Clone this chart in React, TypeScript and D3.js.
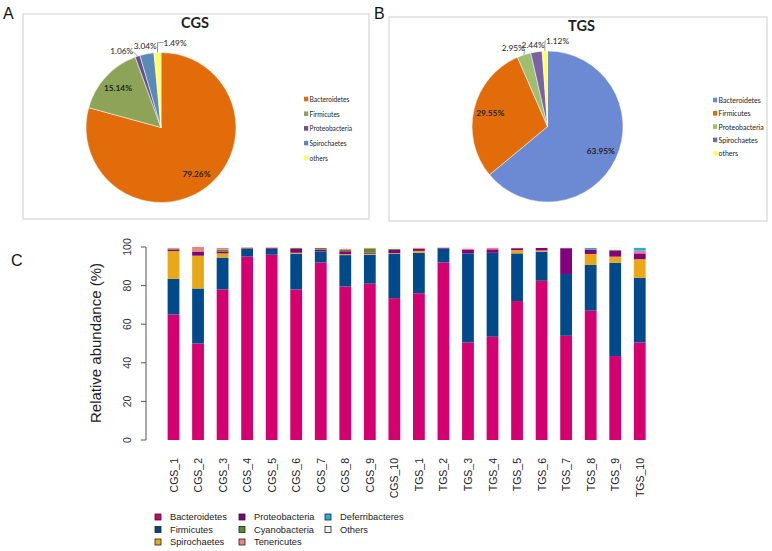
import React from "react";
import * as d3 from "d3";

// ---------- Pie data ----------
const pieCategories = ["Bacteroidetes", "Firmicutes", "Proteobacteria", "Spirochaetes", "others"];
const cgsPieValues = [79.26, 15.14, 1.06, 3.04, 1.49];
const tgsPieValues = [63.95, 29.55, 2.95, 2.44, 1.12];
const cgsPieColors = ["#E36C0A", "#8DA458", "#674E90", "#5A8BB7", "#FFFF66"];
const tgsPieColors = ["#6B8AD3", "#E36C0A", "#9EBF72", "#7A62A4", "#FFFF66"];

// ---------- Bar data ----------
const samples = [
  "CGS_1", "CGS_2", "CGS_3", "CGS_4", "CGS_5", "CGS_6", "CGS_7", "CGS_8", "CGS_9", "CGS_10",
  "TGS_1", "TGS_2", "TGS_3", "TGS_4", "TGS_5", "TGS_6", "TGS_7", "TGS_8", "TGS_9", "TGS_10",
];
const phyla = ["Bacteroidetes", "Firmicutes", "Spirochaetes", "Proteobacteria", "Cyanobacteria", "Tenericutes", "Deferribacteres", "Others"];
const bacteroidetes = [65, 50, 78, 95, 96, 78, 92, 79.5, 81, 73.5, 76, 92, 50.5, 53.5, 72, 82.5, 54, 67, 43.5, 50.5];
const firmicutes = [18.5, 28.5, 16.5, 4, 3, 18.5, 5.7, 16.3, 15, 23, 21, 7.2, 46.2, 43.5, 24.7, 15, 32, 23.7, 48.4, 33.5];
const spirochaetes = [14.4, 17, 2.2, 0.2, 0.1, 0.5, 0, 0.5, 0.5, 0.3, 1, 0, 0, 0, 1.7, 0.7, 0, 5.7, 3.1, 9.7];
const proteobacteria = [0.8, 2, 1, 0.3, 0.4, 2, 1, 1.5, 0.5, 1.7, 1, 0.5, 2, 1.8, 1, 1.3, 13.4, 2.2, 3.1, 3];
const cyanobacteria = [0.5, 0.3, 1, 0.3, 0.3, 0.5, 0.8, 0.7, 2, 0.5, 0, 0, 0, 0, 0, 0, 0, 0.3, 0.5, 0];
const tenericutes = [0.3, 2.2, 0.8, 0, 0, 0, 0, 0.5, 0.5, 0, 0.5, 0, 0.5, 0.7, 0, 0, 0, 0, 0, 1.4];
const deferribacteres = [0, 0, 0, 0, 0, 0, 0, 0, 0, 0, 0, 0, 0, 0, 0, 0, 0, 0.6, 0, 1.5];
const others = [0.5, 0, 0.5, 0.2, 0.2, 0.5, 0.5, 1, 0.5, 1, 0.5, 0.3, 0.8, 0.5, 0.6, 0.5, 0.6, 0.5, 1.4, 0.4];
const phylaColors = ["#D4006F", "#004A8C", "#E8A817", "#83007E", "#5B8A2E", "#F08080", "#1CB0E8", "#F8F6EC"];
const yTicks = [0, 20, 40, 60, 80, 100];

const seriesValues = [bacteroidetes, firmicutes, spirochaetes, proteobacteria, cyanobacteria, tenericutes, deferribacteres, others];

type PieProps = {
  title: string;
  values: number[];
  colors: string[];
  cx: number;
  cy: number;
  r: number;
  box: [number, number, number, number];
  legendX: number;
  legendY: number;
  legendStep: number;
  legendFont: number;
  nudges: [number, number][];
};

function Pie(p: PieProps) {
  const pie = d3.pie<number>().sort(null).value((d) => d);
  const arcs = pie(p.values);
  const arc = d3.arc<d3.PieArcDatum<number>>().innerRadius(0).outerRadius(p.r);
  const font = "Lato, 'Open Sans', sans-serif";
  return (
    <g>
      <rect x={p.box[0]} y={p.box[1]} width={p.box[2]} height={p.box[3]} fill="#fff" stroke="#D6D6D6" strokeWidth={1.2} />
      <text x={p.cx + 34} y={p.box[1] + 14} textAnchor="middle" fontFamily={font} fontWeight="bold" fontSize={14.5} fill="#222">
        {p.title}
      </text>
      <g transform={`translate(${p.cx},${p.cy})`}>
        {arcs.map((a, i) => (
          <path key={i} d={arc(a) || ""} fill={p.colors[i]} stroke="#fff" strokeWidth={0.5} />
        ))}
        {arcs.map((a, i) => {
          const mid = (a.startAngle + a.endAngle) / 2;
          const big = a.value > 10;
          const rr = big ? p.r * 0.78 : p.r * 1.12;
          const x = Math.sin(mid) * rr + p.nudges[i][0];
          const y = -Math.cos(mid) * rr + p.nudges[i][1];
          const label = a.value.toFixed(2) + "%";
          const needLeader = Math.abs(p.nudges[i][0]) > 6;
          const ex = Math.sin(mid) * p.r;
          const ey = -Math.cos(mid) * p.r;
          const right = p.nudges[i][0] > 0;
          const lx = right ? x - 11.5 : x + 11.5;
          const pts = right ? `${ex},${ey} ${ex},${y} ${lx},${y}` : `${ex},${ey} ${lx},${y + 1}`;
          return (
            <g key={"l" + i}>
              {!big && needLeader && <polyline points={pts} fill="none" stroke="#555" strokeWidth={0.6} />}
              <text x={x} y={y} textAnchor="middle" dominantBaseline="central" fontFamily={font} fontSize={8.3} fontWeight={big ? "bold" : "normal"} fill="#222">
                {label}
              </text>
            </g>
          );
        })}
      </g>
      {pieCategories.map((c, i) => (
        <g key={"lg" + i} transform={`translate(${p.legendX},${p.legendY + i * p.legendStep})`}>
          <rect x={-4} y={-2.3} width={4.2} height={4.6} fill={p.colors[i]} />
          <text x={1.5} y={0} dominantBaseline="central" fontFamily={font} fontSize={p.legendFont} fill="#222">
            {c}
          </text>
        </g>
      ))}
    </g>
  );
}

function BarChart() {
  const y = d3.scaleLinear().domain([0, 100]).range([440, 247]);
  const x = d3.scaleBand<string>().domain(samples).range([161.23, 652.03]).paddingInner(0.52).paddingOuter(0.26);
  const table = samples.map((s, i) => {
    const row: Record<string, number | string> = { sample: s };
    phyla.forEach((ph, k) => (row[ph] = seriesValues[k][i]));
    return row;
  });
  const stack = d3.stack<Record<string, number | string>>().keys(phyla).value((d, k) => d[k] as number);
  const layers = stack(table);
  const font = "'Liberation Sans', Arial, sans-serif";
  const axisX = 146;
  const legendCols = [
    [0, 1, 2],
    [3, 4, 5],
    [6, 7],
  ];
  const colX = [158, 242, 328];
  const rowY = [517, 529.5, 542];
  return (
    <g>
      {layers.map((layer, k) => (
        <g key={k} fill={phylaColors[k]}>
          {layer.map((d, i) => {
            const h = y(d[0]) - y(d[1]);
            if (h <= 0) return null;
            return <rect key={i} x={x(samples[i])} y={y(d[1])} width={x.bandwidth()} height={h} />;
          })}
        </g>
      ))}
      <line x1={axisX} x2={axisX} y1={y(0)} y2={y(100)} stroke="#555" strokeWidth={1} />
      {yTicks.map((t) => (
        <g key={t}>
          <line x1={axisX - 5} x2={axisX} y1={y(t)} y2={y(t)} stroke="#555" strokeWidth={1} />
          <text
            transform={`translate(${127},${y(t)}) rotate(-90)`}
            textAnchor="middle"
            dominantBaseline="central"
            fontFamily={font}
            fontSize={10.5}
            fill="#333"
          >
            {t}
          </text>
        </g>
      ))}
      <text transform={`translate(95,${343}) rotate(-90)`} textAnchor="middle" dominantBaseline="central" fontFamily={font} fontSize={15} fill="#222">
        Relative abundance (%)
      </text>
      {samples.map((s) => (
        <text
          key={s}
          transform={`translate(${(x(s) || 0) + x.bandwidth() / 2},${458}) rotate(-90)`}
          textAnchor="end"
          dominantBaseline="central"
          fontFamily={font}
          fontSize={10.5}
          fill="#222"
        >
          {s}
        </text>
      ))}
      {legendCols.map((col, ci) =>
        col.map((k, ri) => (
          <g key={k} transform={`translate(${colX[ci]},${rowY[ri]})`}>
            <rect x={-3} y={-3} width={6} height={6} fill={phylaColors[k]} stroke="#222" strokeWidth={0.8} />
            <text x={12} y={0} dominantBaseline="central" fontFamily={font} fontSize={9.3} fill="#222">
              {phyla[k]}
            </text>
          </g>
        ))
      )}
    </g>
  );
}

export default function App() {
  const letterFont = "'Liberation Sans', Arial, sans-serif";
  return (
    <svg width={772} height={551} style={{ position: "absolute", left: 0, top: 0, background: "#fff" }}>
      <rect x={0} y={0} width={772} height={551} fill="#fff" />
      <Pie
        title="CGS"
        values={cgsPieValues}
        colors={cgsPieColors}
        cx={161}
        cy={127.5}
        r={75}
        box={[23, 14, 346, 205]}
        legendX={308}
        legendY={99}
        legendStep={14.7}
        legendFont={6.6}
        nudges={[[0, 0], [0, 0], [-13, 3], [0, 1], [18, -1]]}
      />
      <Pie
        title="TGS"
        values={tgsPieValues}
        colors={tgsPieColors}
        cx={547.5}
        cy={126.5}
        r={75.5}
        box={[389, 17, 378, 204]}
        legendX={717}
        legendY={100}
        legendStep={13.3}
        legendFont={7}
        nudges={[[0, 0], [0, 0], [-8, 2], [-2, 2], [13, -1]]}
      />
      <text x={3} y={19} fontFamily={letterFont} fontSize={16} fill="#111">A</text>
      <text x={374} y={19} fontFamily={letterFont} fontSize={16} fill="#111">B</text>
      <text x={11} y={266} fontFamily={letterFont} fontSize={16} fill="#111">C</text>
      <BarChart />
    </svg>
  );
}
